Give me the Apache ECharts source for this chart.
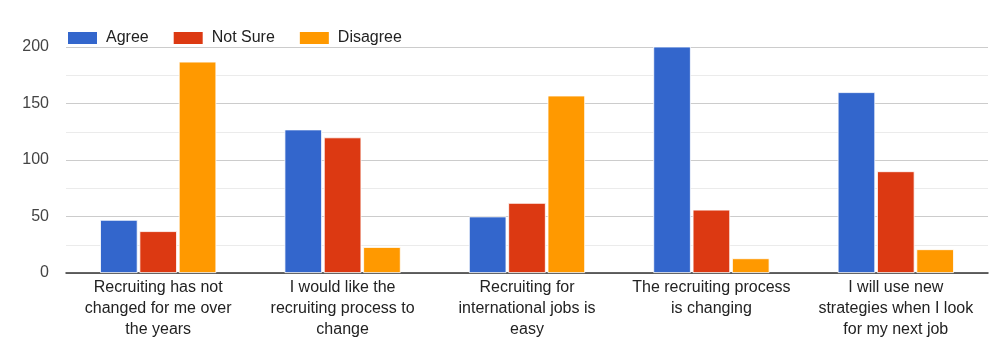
<!DOCTYPE html>
<html>
<head>
<meta charset="utf-8">
<script src="https://cdn.jsdelivr.net/npm/echarts@6/dist/echarts.min.js"></script>
<style>
  html, body { margin: 0; padding: 0; background: #fff; }
  #chart { width: 1000px; height: 346px; }
</style>
</head>
<body>
<div id="chart"></div>
<script>
// Survey statements (wrapped onto lines as shown under each group)
const categories = [
  'Recruiting has not\nchanged for me over\nthe years',
  'I would like the\nrecruiting process to\nchange',
  'Recruiting for\ninternational jobs is\neasy',
  'The recruiting process\nis changing',
  'I will use new\nstrategies when I look\nfor my next job'
];

// Response counts per answer
const agree    = [47, 127, 50, 201, 160];
const notSure  = [37, 120, 62, 56, 90];
const disagree = [187, 23, 157, 13, 21];

const yTicks = [0, 50, 100, 150, 200];

const FONT = '"Liberation Sans", Arial, sans-serif';

const chart = echarts.init(document.getElementById('chart'), null, { renderer: 'canvas' });

function barSeries(name, data, color) {
  return {
    name: name,
    type: 'bar',
    data: data,
    barGap: '5%',
    barCategoryGap: '37%',
    itemStyle: { color: color, borderColor: '#ffffff', borderWidth: 0.8 },
    emphasis: { disabled: true }
  };
}

chart.setOption({
  animation: false,
  backgroundColor: '#ffffff',
  color: ['#3366cc', '#dc3912', '#ff9900'],
  legend: {
    left: 66,
    top: 30,
    padding: 0,
    itemWidth: 31,
    itemHeight: 14,
    itemGap: 23,
    icon: 'rect',
    textStyle: { fontFamily: FONT, fontSize: 16, color: '#222222', padding: [0, 0, 0, 3] },
    data: ['Agree', 'Not Sure', 'Disagree']
  },
  grid: { left: 66, right: 12, top: 47, bottom: 73, containLabel: false },
  xAxis: {
    type: 'category',
    data: categories,
    axisLine: { lineStyle: { color: '#333333', width: 1.5 } },
    axisTick: { show: false },
    axisLabel: {
      interval: 0,
      margin: 4,
      fontFamily: FONT,
      fontSize: 16,
      lineHeight: 21,
      color: '#222222',
      align: 'center',
      verticalAlign: 'top'
    }
  },
  yAxis: {
    type: 'value',
    min: yTicks[0],
    max: yTicks[yTicks.length - 1],
    interval: 50,
    axisLine: { show: false },
    axisTick: { show: false },
    axisLabel: {
      margin: 17,
      fontFamily: FONT,
      fontSize: 16,
      color: '#444444'
    },
    splitLine: { lineStyle: { color: '#cccccc', width: 1 } },
    minorTick: { show: false, splitNumber: 2 },
    minorSplitLine: { show: true, lineStyle: { color: '#ebebeb', width: 1 } }
  },
  series: [
    barSeries('Agree', agree, '#3366cc'),
    barSeries('Not Sure', notSure, '#dc3912'),
    barSeries('Disagree', disagree, '#ff9900')
  ]
});
</script>
</body>
</html>
